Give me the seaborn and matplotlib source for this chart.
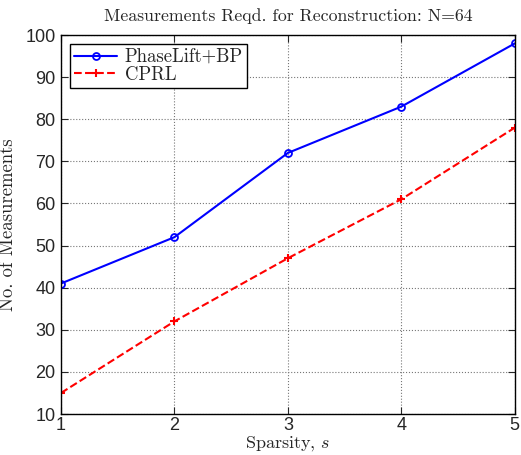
import seaborn as sns
import pandas as pd
import matplotlib.pyplot as plt

sparsity = [1, 2, 3, 4, 5]
phaselift_bp = [41, 52, 72, 83, 98]
cprl = [15, 32, 47, 61, 78]
y_ticks = [10, 20, 30, 40, 50, 60, 70, 80, 90, 100]

sns.set_style("ticks")
plt.rcParams['font.family'] = ['Liberation Sans', 'DejaVu Sans']
plt.rcParams['mathtext.fontset'] = 'cm'
plt.rcParams['axes.unicode_minus'] = False

df = pd.DataFrame({"s": sparsity, "PhaseLift+BP": phaselift_bp, "CPRL": cprl})

fig = plt.figure(figsize=(5.21, 4.55), dpi=100)
ax = fig.add_axes([0.117, 0.09, 0.871, 0.833])

sns.lineplot(x="s", y="PhaseLift+BP", data=df, ax=ax, color="blue", marker="o",
             markersize=5, markerfacecolor="none", markeredgecolor="blue", markeredgewidth=1.3,
             linewidth=1.5, label="PhaseLift+BP")
sns.lineplot(x="s", y="CPRL", data=df, ax=ax, color="red", marker="+", linestyle="--",
             markersize=5.5, markeredgecolor="red", markeredgewidth=1.5, linewidth=1.5, label="CPRL")

ax.set_xlim(1, 5)
ax.set_ylim(10, 100)
ax.set_xticks(sparsity)
ax.set_yticks(y_ticks)
ax.tick_params(direction="in", top=True, right=True, labelsize=13, length=5, width=0.8)
ax.tick_params(axis="x", pad=2)
ax.tick_params(axis="y", pad=4)
ax.grid(True, linestyle=":", color="#777777", linewidth=0.8)
for sp in ax.spines.values():
    sp.set_linewidth(1.0)
    sp.set_color("black")

serif = {"family": "cmr10", "size": 13.5}
ax.set_title("Measurements Reqd. for Reconstruction: N=64", fontdict={"family": "cmr10", "size": 12.8}, pad=10)
ax.set_xlabel("Sparsity, $s$", fontdict={"family": "cmr10", "size": 13}, labelpad=0)
ax.set_ylabel("No. of Measurements", fontdict=serif, labelpad=6)

leg = ax.legend(loc="upper left", prop={"family": "cmr10", "size": 13.5}, fancybox=False,
                edgecolor="black", framealpha=1, borderpad=0.2, handlelength=2.3,
                labelspacing=0.0, borderaxespad=0.5, handletextpad=0.4)
leg.get_frame().set_linewidth(1.0)

fig.savefig("out.png", dpi=100)
